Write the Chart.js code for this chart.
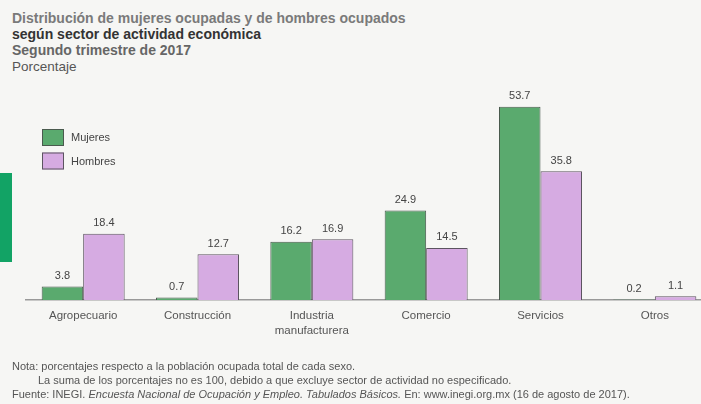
<!DOCTYPE html>
<html>
<head>
<meta charset="utf-8">
<script src="https://cdn.jsdelivr.net/npm/chart.js@4.4.0/dist/chart.umd.min.js"></script>
<style>
  html, body { margin: 0; padding: 0; }
  body {
    width: 701px; height: 404px; overflow: hidden; position: relative;
    background: #f6f6f4; font-family: "Liberation Sans", Arial, sans-serif;
  }
  #chartBox { position: absolute; left: 0; top: 0; width: 720px; height: 404px; }
  .t { position: absolute; left: 12px; font-size: 14px; white-space: nowrap; }
  .t1 { top: 10px; font-weight: bold; color: #7a7a7a; }
  .t2 { top: 26px; font-weight: bold; color: #333; }
  .t3 { top: 42px; color: #666; font-weight: bold; }
  .t4 { top: 59px; color: #555; font-size: 13.5px; }
  .note { position: absolute; font-size: 11px; color: #555; white-space: nowrap; }
  .mark { position: absolute; left: 0; top: 173px; width: 12px; height: 89px; background: #12a365; }
</style>
</head>
<body>
<div class="t t1">Distribución de mujeres ocupadas y de hombres ocupados</div>
<div class="t t2">según sector de actividad económica</div>
<div class="t t3">Segundo trimestre de 2017</div>
<div class="t t4">Porcentaje</div>
<div class="mark"></div>
<div id="chartBox"><canvas id="chart"></canvas></div>
<div class="note" style="left:12px; top:360px;">Nota: porcentajes respecto a la población ocupada total de cada sexo.</div>
<div class="note" style="left:38px; top:374px;">La suma de los porcentajes no es 100, debido a que excluye sector de actividad no especificado.</div>
<div class="note" style="left:12px; top:388px;">Fuente: INEGI. <i>Encuesta Nacional de Ocupación y Empleo. Tabulados Básicos.</i> En: www.inegi.org.mx (16 de agosto de 2017).</div>
<script>
// Chart data

const labels = [
  'Agropecuario', 'Construcción', ['Industria', 'manufacturera'], 'Comercio', 'Servicios', 'Otros'
];

const mujeres = [3.8, 0.7, 16.2, 24.9, 53.7, 0.2];
const hombres = [18.4, 12.7, 16.9, 14.5, 35.8, 1.1];

// value labels over each bar
const valueLabels = {
  id: 'valueLabels',
  afterDatasetsDraw(chart) {
    const ctx = chart.ctx;
    ctx.save();
    ctx.font = '11px "Liberation Sans", Arial, sans-serif';
    ctx.fillStyle = '#444';
    ctx.textAlign = 'center';
    ctx.textBaseline = 'bottom';
    chart.data.datasets.forEach((ds, i) => {
      chart.getDatasetMeta(i).data.forEach((bar, j) => {
        ctx.fillText(ds.data[j].toFixed(1), bar.x, bar.y - 5);
      });
    });
    ctx.restore();
  }
};

// stacked legend in the upper left of the plot
const boxLegend = {
  id: 'boxLegend',
  afterDraw(chart) {
    const ctx = chart.ctx;
    ctx.save();
    ctx.font = '11px "Liberation Sans", Arial, sans-serif';
    ctx.textBaseline = 'middle';
    chart.data.datasets.forEach((ds, i) => {
      const x = 42, y = 129 + i * 23.5;
      ctx.fillStyle = ds.backgroundColor;
      ctx.strokeStyle = ds.borderColor;
      ctx.lineWidth = 1;
      ctx.fillRect(x, y, 22, 17);
      ctx.strokeRect(x + 0.5, y + 0.5, 21, 16);
      ctx.fillStyle = '#444';
      ctx.fillText(ds.label, x + 29, y + 9);
    });
    ctx.restore();
  }
};

const data = {
  labels: labels,
  datasets: [{
    label: 'Mujeres',
    data: mujeres,
    backgroundColor: '#5aaa6e',
    borderColor: '#4a5a4e',
    borderWidth: 1,
    categoryPercentage: 0.726,
    barPercentage: 1.0
  }, {
    label: 'Hombres',
    data: hombres,
    backgroundColor: '#d6abe2',
    borderColor: '#5c5460',
    borderWidth: 1,
    categoryPercentage: 0.726,
    barPercentage: 1.0
  }]
};

const options = {
  responsive: true,
  maintainAspectRatio: false,
  animation: false,
  layout: {
    padding: { left: 26, right: 8, top: 84, bottom: 66 }
  },
  plugins: {
    legend: { display: false },
    tooltip: { enabled: false }
  },
  scales: {
    y: {
      display: false,
      min: 0,
      max: 60
    },
    x: {
      grid: { display: false },
      border: { display: true, color: '#999', width: 1.5 },
      ticks: {
        color: '#555',
        padding: 0,
        maxRotation: 0,
        font: { family: '"Liberation Sans", Arial, sans-serif', size: 11.5, lineHeight: 1.3 }
      }
    }
  }
};

const chart = new Chart(document.getElementById('chart'), {
  type: 'bar',
  data: data,
  options: options,
  plugins: [valueLabels, boxLegend]
});
</script>
</body>
</html>
